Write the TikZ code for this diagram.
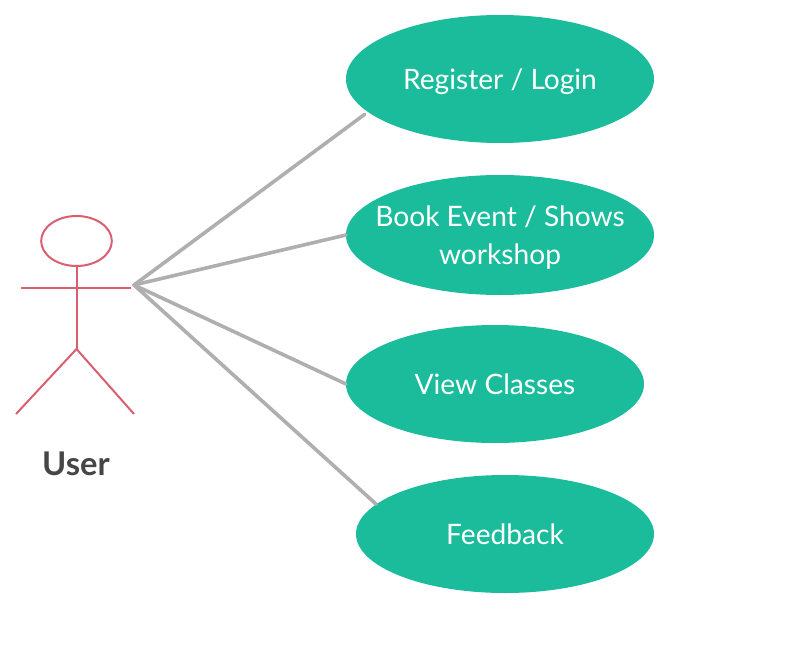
\documentclass[tikz,border=0pt]{standalone}
\usepackage{fontspec}
\setmainfont{Lato}
\definecolor{T}{HTML}{1ABC9C}
\definecolor{L}{HTML}{AFAFAF}
\definecolor{A}{HTML}{D95F70}
\definecolor{G}{HTML}{464646}
\usetikzlibrary{shapes.geometric}
\tikzstyle{base}=[x=0.75pt, y=-0.75pt, inner sep=0pt, outer sep=0pt]
\tikzstyle{usecase}=[ellipse, fill=T]
\tikzstyle{casetext}=[text=white, align=center, font=\fontsize{21.1}{28.5}\selectfont]
\tikzstyle{oneline}=[usecase, casetext, text height=15.5pt, text depth=0pt]
\tikzstyle{link}=[L, line width=2.7pt, line cap=round]
\tikzstyle{limb}=[A, line width=1.5pt]

\begin{document}
\begin{tikzpicture}[base]
    \path [use as bounding box] (0,0) rectangle (793,660);
    % use cases
    \node [oneline, minimum width=231pt, minimum height=96pt] (register) at (500,79) {Register / Login};
    \node [usecase, minimum width=231pt, minimum height=90pt] (book) at (500,235) {};
    \node [casetext, yshift=-2.25pt] (booktext) at (book) {Book Event / Shows\\workshop};
    \node [oneline, minimum width=223.5pt, minimum height=88.5pt] (view) at (495,384) {View Classes};
    \node [oneline, minimum width=223.5pt, minimum height=88.5pt] (feedback) at (505,534) {Feedback};
    % actor
    \node [ellipse, draw=A, line width=1.5pt, minimum width=53pt, minimum height=37.5pt] (head) at (76.5,241) {};
    \coordinate (hip) at (76.5,349);
    \coordinate (armL) at (21,288);
    \coordinate (armR) at (131,288);
    \coordinate (footL) at (16,414);
    \coordinate (footR) at (134,414);
    \draw [limb] (head.south) -- (hip);
    \draw [limb] (armL) -- (armR);
    \draw [limb] (footL) -- (hip) -- (footR);
    \node [text=G, font=\fontsize{24.5}{28}\selectfont\bfseries] (user) at (76,463.5) {User};
    % links
    \coordinate (hub) at (134,285);
    \draw [link, shorten >=3pt] (hub) -- (register.194.6);
    \draw [link] (hub) -- (book.west);
    \draw [link] (hub) -- (view.west);
    \draw [link] (hub) -- (feedback.167.3);
\end{tikzpicture}
\end{document}
